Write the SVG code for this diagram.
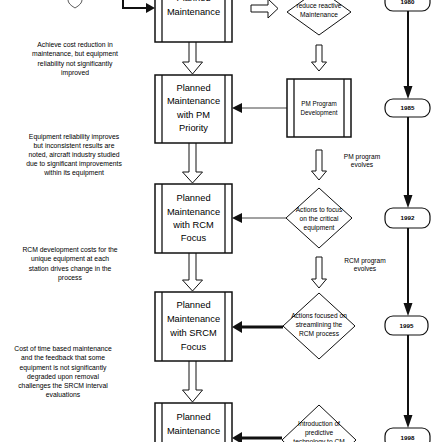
<svg xmlns="http://www.w3.org/2000/svg" width="442" height="442" viewBox="0 0 442 442">
<style>
text{font-family:"Liberation Sans",Arial,sans-serif;fill:#000;text-anchor:middle}
.note{font-size:6.8px}
.bx{font-size:9.3px}
.sm{font-size:6.6px}
.pm{font-size:6.3px}
.lbl{font-size:6.6px}
.yr{font-size:6.2px;font-weight:bold}
.box{fill:#fff;stroke:#111;stroke-width:1.5}
.in{stroke:#111;stroke-width:1.3}
.dia{fill:#fff;stroke:#111;stroke-width:1}
.barrow{fill:#fff;stroke:#111;stroke-width:1}
.thin{stroke:#444;stroke-width:1;fill:none}
.thick{stroke:#111;stroke-width:3;fill:none}
.tl{stroke:#111;stroke-width:2;fill:none}
.term{fill:#fff;stroke:#111;stroke-width:1.2}
</style>
<rect width="442" height="442" fill="#fff"/>

<g id="top-mark"><path d="M68,0 Q68,4 75,8 Q82,4 82,0" fill="none" stroke="#333" stroke-width="0.8"/></g>

<g id="note1">
<text class="note" x="75" y="47">Achieve cost reduction in</text>
<text class="note" x="75" y="56">maintenance, but equipment</text>
<text class="note" x="75" y="66">reliability not significantly</text>
<text class="note" x="75" y="75">improved</text>
</g>
<g id="note2">
<text class="note" x="74" y="139">Equipment reliability improves</text>
<text class="note" x="74" y="148">but inconsistent results are</text>
<text class="note" x="74" y="157">noted, aircraft industry studied</text>
<text class="note" x="74" y="166">due to significant improvements</text>
<text class="note" x="74" y="175">within its equipment</text>
</g>
<g id="note3">
<text class="note" x="70" y="252">RCM development costs for the</text>
<text class="note" x="70" y="261">unique equipment at each</text>
<text class="note" x="70" y="271">station drives change in the</text>
<text class="note" x="70" y="280">process</text>
</g>
<g id="note4">
<text class="note" x="63" y="351">Cost of time based maintenance</text>
<text class="note" x="63" y="360">and the feedback that some</text>
<text class="note" x="63" y="370">equipment is not significantly</text>
<text class="note" x="63" y="379">degraded upon removal</text>
<text class="note" x="63" y="388">challenges the SRCM interval</text>
<text class="note" x="63" y="397">evaluations</text>
</g>

<g id="connectors">
<path d="M189,42 V62 H182.5 L192.5,74 L202.5,62 H196 V42" class="barrow"/>
<path d="M189,143 V172 H182.5 L192.5,183 L202.5,172 H196 V143" class="barrow"/>
<path d="M189,253 V280 H182.5 L192.5,291 L202.5,280 H196 V253" class="barrow"/>
<path d="M189,361 V390 H182.5 L192.5,402 L202.5,390 H196 V361" class="barrow"/>
<path d="M316,45 V62 H311.5 L319,71 L326.5,62 H322 V45 Z" class="barrow"/>
<path d="M316,150 V171 H311.5 L319,180 L326.5,171 H322 V150 Z" class="barrow"/>
<path d="M316,257 V279 H311.5 L319,288 L326.5,279 H322 V257 Z" class="barrow"/>
<path d="M251,5 H268 V-1 L278,8.5 L268,18 V12 H251 Z" class="barrow"/>
<polyline points="123,0 123,8 147,8" fill="none" stroke="#111" stroke-width="2"/>
<polygon points="155,8 146,3 146,13" fill="#111"/>
<line x1="287" y1="108" x2="241" y2="108" class="thin"/>
<polygon points="232,108 242,103 242,113" fill="#111"/>
<line x1="286" y1="218" x2="241" y2="218" class="thin"/>
<polygon points="232,218 242,213 242,223" fill="#111"/>
<line x1="283" y1="327" x2="241" y2="327" class="thick"/>
<polygon points="232,327 242,321 242,333" fill="#111"/>
<line x1="282" y1="438" x2="241" y2="438" class="thick"/>
<polygon points="232,438 242,432 242,444" fill="#111"/>
<line x1="408" y1="11" x2="408" y2="90" class="tl"/>
<polygon points="408,99 403.5,86 412.5,86" fill="#111"/>
<line x1="408" y1="117" x2="408" y2="199" class="tl"/>
<polygon points="408,208 403.5,195 412.5,195" fill="#111"/>
<line x1="408" y1="228" x2="408" y2="307" class="tl"/>
<polygon points="408,316 403.5,303 412.5,303" fill="#111"/>
<line x1="408" y1="335" x2="408" y2="419" class="tl"/>
<polygon points="408,428 403.5,415 412.5,415" fill="#111"/>
<text class="lbl" x="362" y="159">PM program</text>
<text class="lbl" x="362" y="167">evolves</text>
<text class="lbl" x="365" y="263">RCM program</text>
<text class="lbl" x="365" y="271">evolves</text>
</g>

<g id="box1">
<rect class="box" x="155" y="-26" width="77" height="68"/>
<line class="in" x1="162" y1="-26" x2="162" y2="42"/><line class="in" x1="225" y1="-26" x2="225" y2="42"/>
<text class="bx" x="193.5" y="1">Planned</text>
<text class="bx" x="193.5" y="15">Maintenance</text>
</g>
<g id="box2">
<rect class="box" x="155" y="75" width="77" height="68"/>
<line class="in" x1="162" y1="75" x2="162" y2="143"/><line class="in" x1="225" y1="75" x2="225" y2="143"/>
<text class="bx" x="193.5" y="91">Planned</text>
<text class="bx" x="193.5" y="104">Maintenance</text>
<text class="bx" x="193.5" y="118">with PM</text>
<text class="bx" x="193.5" y="131">Priority</text>
</g>
<g id="box3">
<rect class="box" x="155" y="184" width="77" height="69"/>
<line class="in" x1="162" y1="184" x2="162" y2="253"/><line class="in" x1="225" y1="184" x2="225" y2="253"/>
<text class="bx" x="193.5" y="201">Planned</text>
<text class="bx" x="193.5" y="215">Maintenance</text>
<text class="bx" x="193.5" y="228">with RCM</text>
<text class="bx" x="193.5" y="241">Focus</text>
</g>
<g id="box4">
<rect class="box" x="155" y="292" width="77" height="69"/>
<line class="in" x1="162" y1="292" x2="162" y2="361"/><line class="in" x1="225" y1="292" x2="225" y2="361"/>
<text class="bx" x="193.5" y="308">Planned</text>
<text class="bx" x="193.5" y="322">Maintenance</text>
<text class="bx" x="193.5" y="336">with SRCM</text>
<text class="bx" x="193.5" y="350">Focus</text>
</g>
<g id="box5">
<rect class="box" x="155" y="403" width="77" height="69"/>
<line class="in" x1="162" y1="403" x2="162" y2="472"/><line class="in" x1="225" y1="403" x2="225" y2="472"/>
<text class="bx" x="193.5" y="420">Planned</text>
<text class="bx" x="193.5" y="434">Maintenance</text>
</g>

<g id="pmdev">
<rect class="box" x="287" y="79" width="64" height="58"/>
<line class="in" x1="294" y1="79" x2="294" y2="137"/><line class="in" x1="344" y1="79" x2="344" y2="137"/>
<text class="pm" x="319" y="106">PM Program</text>
<text class="pm" x="319" y="115">Development</text>
</g>

<g id="d1">
<polygon class="dia" points="319,-11 351,12 319,35 287,12"/>
<text class="sm" x="319" y="-1">Planned to</text>
<text class="sm" x="319" y="8">reduce reactive</text>
<text class="sm" x="319" y="17">Maintenance</text>
</g>
<g id="d2">
<polygon class="dia" points="319,188 352,218 319,248 286,218"/>
<text class="sm" x="319" y="212">Actions to focus</text>
<text class="sm" x="319" y="221">on the critical</text>
<text class="sm" x="319" y="230">equipment</text>
</g>
<g id="d3">
<polygon class="dia" points="319,293 355,326 319,359 283,326"/>
<text class="sm" x="319" y="318">Actions focused on</text>
<text class="sm" x="319" y="327">streamlining the</text>
<text class="sm" x="319" y="336">RCM process</text>
</g>
<g id="d4">
<polygon class="dia" points="319,405 356,440 319,475 282,440"/>
<text class="sm" x="319" y="426">Introduction of</text>
<text class="sm" x="319" y="435">predictive</text>
<text class="sm" x="319" y="444">technology to CM</text>
</g>

<g id="t1980"><rect class="term" x="385" y="-9" width="45" height="20" rx="8"/><text class="yr" x="407.5" y="4">1980</text></g>
<g id="t1985"><rect class="term" x="385" y="99" width="45" height="18" rx="8"/><text class="yr" x="407.5" y="110">1985</text></g>
<g id="t1992"><rect class="term" x="385" y="208" width="45" height="20" rx="8"/><text class="yr" x="407.5" y="220">1992</text></g>
<g id="t1995"><rect class="term" x="385" y="316" width="43" height="19" rx="8"/><text class="yr" x="406.5" y="328">1995</text></g>
<g id="t1998"><rect class="term" x="385" y="428" width="45" height="20" rx="8"/><text class="yr" x="407.5" y="440">1998</text></g>
</svg>
